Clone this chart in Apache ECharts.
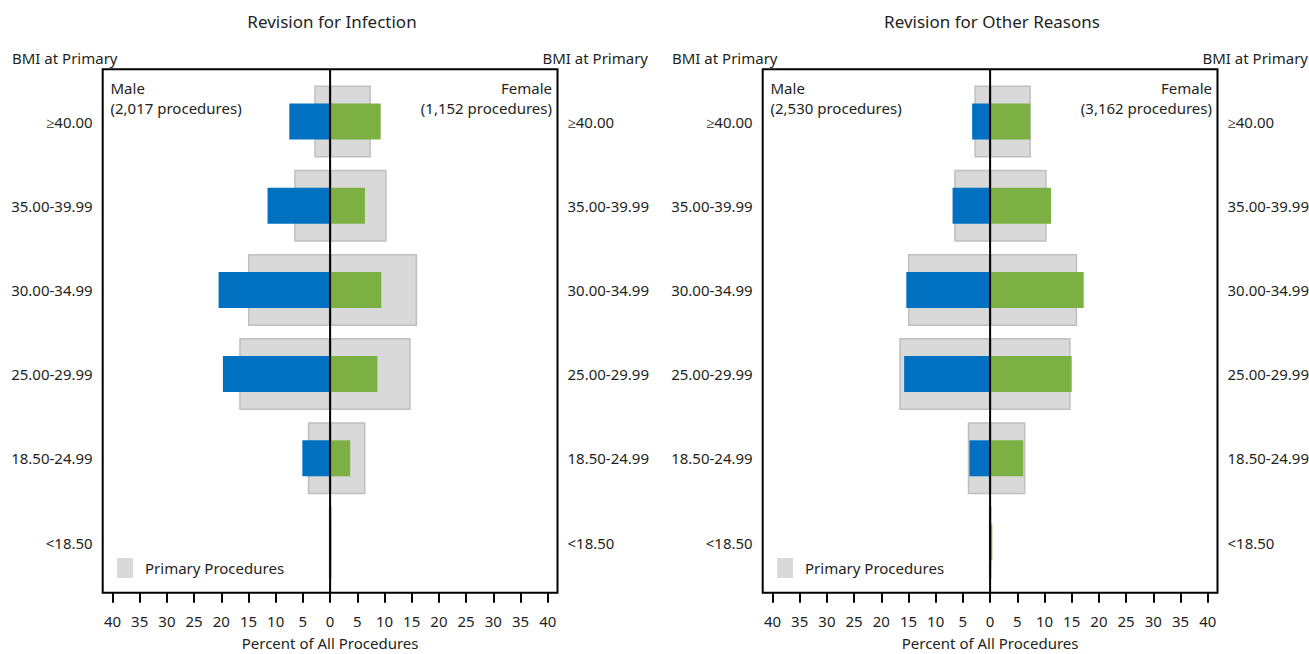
<!DOCTYPE html>
<html>
<head>
<meta charset="utf-8">
<script src="https://cdn.jsdelivr.net/npm/echarts@6/dist/echarts.min.js"></script>
<style>
html,body{margin:0;padding:0;background:#fff;}
#chart{width:1309px;height:654px;}
</style>
</head>
<body>
<div id="chart"></div>
<script>
// ---- data ----
const categories = ['≥40.00', '35.00-39.99', '30.00-34.99', '25.00-29.99', '18.50-24.99', '<18.50'];
const primaryMale   = [2.9, 6.6, 15.1, 16.7, 4.1, 0.2];
const primaryFemale = [7.5, 10.4, 16.0, 14.8, 6.5, 0.3];
const infectionMale   = [7.5, 11.5, 20.5, 19.7, 5.1, 0.1];
const infectionFemale = [9.3, 6.4, 9.4, 8.7, 3.7, 0.2];
const otherMale   = [3.3, 6.9, 15.4, 15.8, 3.8, 0.1];
const otherFemale = [7.4, 11.2, 17.2, 15.0, 6.1, 0.4];
const xTickValues = [-40, -35, -30, -25, -20, -15, -10, -5, 0, 5, 10, 15, 20, 25, 30, 35, 40];
const panelTitles = ['Revision for Infection', 'Revision for Other Reasons'];
const maleCounts = ['2,017', '2,530'];
const femaleCounts = ['1,152', '3,162'];
const yAxisTitle = 'BMI at Primary';
const xAxisTitle = 'Percent of All Procedures';
const legendLabel = 'Primary Procedures';

// ---- style ----
const FONT = 'Noto Sans';
const FS = 15;
const TXT = '#231f20';
const GREY = '#d9d9d9', GREY_B = '#bfbfbf', BLUE = '#0070c0', GREEN = '#7cb042';
const XMIN = -41.8, XMAX = 41.8;

const chart = echarts.init(document.getElementById('chart'), null, {renderer: 'svg'});

const grids = [], xAxes = [], yAxes = [], series = [], graphics = [], legends = [];
const revisions = [[infectionMale, infectionFemale], [otherMale, otherFemale]];
const font = (s) => s + 'px "' + FONT + '"';
const txt = (x, y, text, align, size) => ({type: 'text', x: x, y: y, silent: true,
  style: {text: text, font: font(size || FS), fill: TXT, align: align, verticalAlign: 'middle', lineHeight: 16}});

for (let p = 0; p < 2; p++) {
  const off = p * 660;
  const left = 102.7 + off;
  const right = 1309 - (557.5 + off);
  // box grid
  grids.push({left: left, right: right, top: 69.3, bottom: 61.3, show: true,
    borderColor: '#000', borderWidth: 2, backgroundColor: 'transparent', outerBoundsMode: 'none'});
  // bar grid
  grids.push({left: left, right: right, top: 79.4, bottom: 69.4, show: false, outerBoundsMode: 'none'});
  const gA = p * 2, gB = p * 2 + 1;

  xAxes.push({type: 'value', gridIndex: gA, min: XMIN, max: XMAX, position: 'bottom',
    axisLine: {show: false}, splitLine: {show: false},
    axisTick: {show: true, customValues: xTickValues, length: 10, inside: false, lineStyle: {color: '#000', width: 2}},
    axisLabel: {show: true, customValues: xTickValues, margin: 21, color: TXT, fontFamily: FONT, fontSize: FS,
      formatter: v => String(Math.abs(v))},
    name: xAxisTitle, nameLocation: 'middle', nameGap: 43,
    nameTextStyle: {color: TXT, fontFamily: FONT, fontSize: FS, lineHeight: 15}
  });
  const xA = xAxes.length - 1;
  xAxes.push({type: 'value', gridIndex: gB, min: XMIN, max: XMAX, show: false});
  const xB = xAxes.length - 1;

  yAxes.push({type: 'value', gridIndex: gA, min: 0, max: 1, show: false});
  const yA = yAxes.length - 1;
  const catLabel = {color: TXT, fontFamily: FONT, fontSize: FS, margin: 10, padding: [6, 0, 0, 0]};
  yAxes.push({type: 'category', gridIndex: gB, data: categories, inverse: true, position: 'left',
    axisLine: {show: false}, axisTick: {show: false}, axisLabel: catLabel});
  const yL = yAxes.length - 1;
  yAxes.push({type: 'category', gridIndex: gB, data: categories, inverse: true, position: 'right',
    axisLine: {show: false}, axisTick: {show: false}, axisLabel: catLabel});
  const yR = yAxes.length - 1;

  const greyStyle = {color: GREY, borderColor: GREY_B, borderWidth: 1.5};
  series.push({type: 'bar', name: legendLabel, xAxisIndex: xB, yAxisIndex: yL, stack: 'prim' + p,
    barWidth: 72, data: primaryMale.map(v => -v), itemStyle: greyStyle, z: 2, silent: true});
  series.push({type: 'bar', name: legendLabel, xAxisIndex: xB, yAxisIndex: yL, stack: 'prim' + p,
    barWidth: 72, data: primaryFemale, itemStyle: greyStyle, z: 2, silent: true});
  series.push({type: 'bar', name: 'Male', xAxisIndex: xB, yAxisIndex: yR, stack: 'rev' + p,
    barWidth: 36, data: revisions[p][0].map(v => -v), itemStyle: {color: BLUE}, z: 3, silent: true});
  series.push({type: 'bar', name: 'Female', xAxisIndex: xB, yAxisIndex: yR, stack: 'rev' + p,
    barWidth: 36, data: revisions[p][1], itemStyle: {color: GREEN}, z: 3, silent: true});
  series.push({type: 'line', name: 'zero', xAxisIndex: xA, yAxisIndex: yA, data: [[0, 0], [0, 1]],
    symbol: 'none', lineStyle: {color: '#000', width: 2}, z: 10, silent: true});

  legends.push({data: [legendLabel], left: 117 + off, top: 558, orient: 'vertical', padding: 0,
    itemWidth: 16, itemHeight: 20, icon: 'rect', selectedMode: false,
    itemStyle: {borderWidth: 0},
    textStyle: {color: TXT, fontFamily: FONT, fontSize: FS, padding: [0, 0, 0, 7]}});

  graphics.push(txt(332 + off, 21, panelTitles[p], 'center', 17));
  graphics.push(txt(12 + off, 58, yAxisTitle, 'left'));
  graphics.push(txt(648 + off, 58, yAxisTitle, 'right'));
  graphics.push(txt(110.5 + off, 88, 'Male', 'left'));
  graphics.push(txt(110.5 + off, 108, '(' + maleCounts[p] + ' procedures)', 'left'));
  graphics.push(txt(552 + off, 88, 'Female', 'right'));
  graphics.push(txt(552 + off, 108, '(' + femaleCounts[p] + ' procedures)', 'right'));
}

chart.setOption({
  animation: false,
  backgroundColor: '#fff',
  textStyle: {fontFamily: FONT},
  grid: grids, xAxis: xAxes, yAxis: yAxes, series: series,
  legend: legends, graphic: graphics
});
</script>
</body>
</html>
